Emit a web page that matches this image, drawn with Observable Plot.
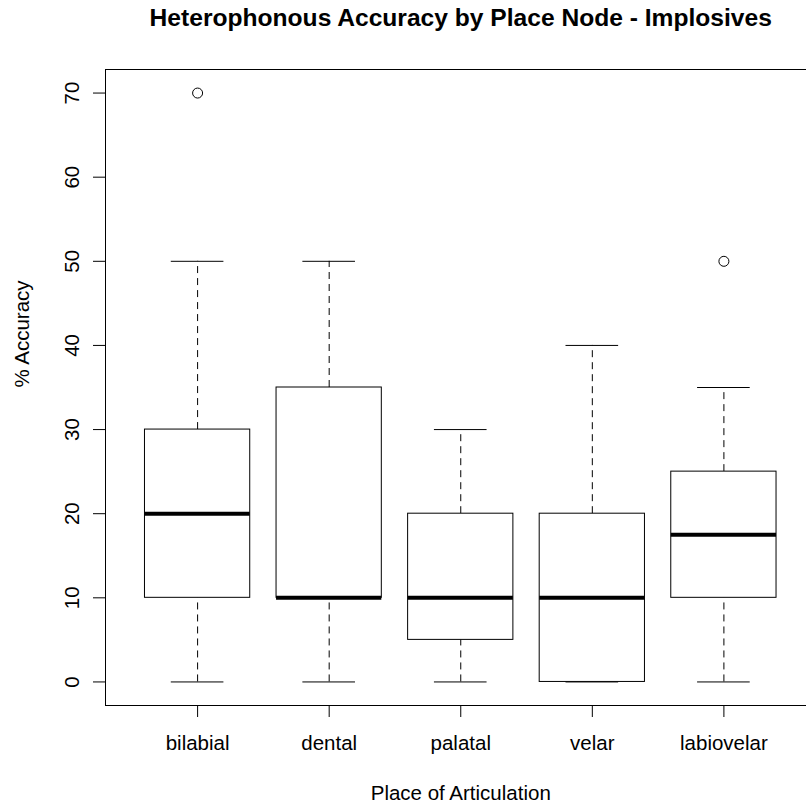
<!DOCTYPE html>
<html>
<head>
<meta charset="utf-8">
<script src="https://cdn.jsdelivr.net/npm/d3@7"></script>
<script src="https://cdn.jsdelivr.net/npm/@observablehq/plot@0.6"></script>
<style>
  html, body { margin: 0; padding: 0; background: white; overflow: hidden; }
  #chart svg { display: block; }
</style>
</head>
<body>
<div id="chart"></div>
<script>
const categories = ["bilabial", "dental", "palatal", "velar", "labiovelar"];
const lowWhisker = [0, 0, 0, 0, 0];
const q1 = [10, 10, 5, 0, 10];
const median = [20, 10, 10, 10, 17.5];
const q3 = [30, 35, 20, 20, 25];
const highWhisker = [50, 50, 30, 40, 35];
const outlierCategories = ["bilabial", "labiovelar"];
const outlierValues = [70, 50];
const yTicks = [0, 10, 20, 30, 40, 50, 60, 70];
const titleText = "Heterophonous Accuracy by Place Node - Implosives";
const xLabel = "Place of Articulation";
const yLabel = "% Accuracy";

const boxes = categories.map((c, i) => ({
  cat: c, pos: i + 1,
  lo: lowWhisker[i], q1: q1[i], med: median[i], q3: q3[i], hi: highWhisker[i]
}));
const outliers = outlierCategories.map((c, i) => ({
  pos: categories.indexOf(c) + 1, value: outlierValues[i]
}));

const boxHalf = 0.4, stapleHalf = 0.2;
const font = "'Liberation Sans', Arial, Helvetica, sans-serif";

const chart = Plot.plot({
  width: 806,
  height: 804,
  marginLeft: 105,
  marginRight: -9.5,
  marginTop: 69,
  marginBottom: 99,
  x: {domain: [0.3, 5.7]},
  y: {domain: [-2.8, 72.8]},
  style: {fontFamily: font, fontSize: "20.5px", color: "black", background: "white"},
  marks: [
    // whiskers
    Plot.ruleX(boxes, {x: "pos", y1: "lo", y2: "q1", stroke: "black", strokeDasharray: "7,5"}),
    Plot.ruleX(boxes, {x: "pos", y1: "q3", y2: "hi", stroke: "black", strokeDasharray: "7,5"}),
    // staples
    Plot.ruleY(boxes, {y: "lo", x1: d => d.pos - stapleHalf, x2: d => d.pos + stapleHalf, stroke: "black"}),
    Plot.ruleY(boxes, {y: "hi", x1: d => d.pos - stapleHalf, x2: d => d.pos + stapleHalf, stroke: "black"}),
    // boxes
    Plot.rect(boxes, {x1: d => d.pos - boxHalf, x2: d => d.pos + boxHalf, y1: "q1", y2: "q3", fill: "white", stroke: "black", strokeWidth: 1}),
    // medians
    Plot.ruleY(boxes, {y: "med", x1: d => d.pos - boxHalf, x2: d => d.pos + boxHalf, stroke: "black", strokeWidth: 4}),
    // outliers
    Plot.dot(outliers, {x: "pos", y: "value", r: 5, stroke: "black", fill: "none", strokeWidth: 1}),
    // frame
    Plot.frame({stroke: "black", strokeWidth: 1}),
    // axes ticks
    Plot.axisY({ticks: yTicks, tickSize: 12, tickFormat: () => "", label: null, stroke: "black"}),
    Plot.axisX({ticks: boxes.map(d => d.pos), tickSize: 12, tickFormat: () => "", label: null, stroke: "black"}),
    // y tick labels (rotated, R style)
    Plot.text(yTicks, {y: d => d, text: d => String(d), frameAnchor: "left", dx: -27, rotate: -90,
      textAnchor: "middle", lineAnchor: "bottom", fontSize: 20.5, fill: "black"}),
    // x tick labels
    Plot.text(boxes, {x: "pos", text: "cat", frameAnchor: "bottom", dy: 44,
      textAnchor: "middle", lineAnchor: "bottom", fontSize: 20.5, fill: "black"}),
    // axis titles
    Plot.text([xLabel], {text: d => d, frameAnchor: "bottom", dy: 94, lineAnchor: "bottom", fontSize: 20.5, fill: "black"}),
    Plot.text([yLabel], {text: d => d, frameAnchor: "left", dx: -77, rotate: -90, lineAnchor: "bottom", fontSize: 20.5, fill: "black"}),
    // main title
    Plot.text([titleText], {text: d => d, frameAnchor: "top", dy: -44, lineAnchor: "bottom",
      fontSize: 24.6, fontWeight: "bold", fill: "black"})
  ]
});
document.getElementById("chart").appendChild(chart);
</script>
</body>
</html>
